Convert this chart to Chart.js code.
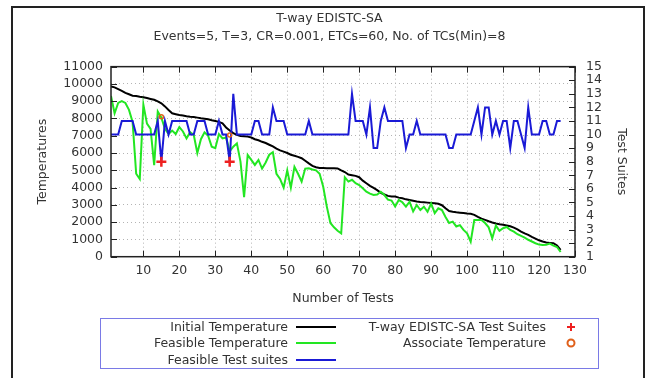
<!DOCTYPE html>
<html><head><meta charset="utf-8">
<script src="https://cdn.jsdelivr.net/npm/chart.js@4.4.1/dist/chart.umd.min.js"></script>
<style>
html,body{margin:0;padding:0;background:#fff;}
#wrap{position:relative;width:649px;height:378px;overflow:hidden;background:#fff;}
#c{position:absolute;left:0;top:0;}
#frame{position:absolute;left:11px;top:6px;width:634px;height:420px;border:2px solid #222;box-sizing:border-box;pointer-events:none;}
#legendBox{position:absolute;left:100px;top:318px;width:499px;height:51px;border:1.5px solid #7a7ae6;box-sizing:border-box;}
.lt{position:absolute;left:0;height:16px;line-height:16px;text-align:right;font:12.5px "DejaVu Sans",sans-serif;color:#333;white-space:nowrap;}
.ls{position:absolute;height:2px;}
.lm{position:absolute;}
</style>
</head><body>
<div id="wrap">
<canvas id="c" width="649" height="378"></canvas>
<div id="frame"></div>
<div id="legendBox"></div>
<div id="legend"></div>
</div>
<script>
// ---- data ----
const tests = [1,2,3,4,5,6,7,8,9,10,11,12,13,14,15,16,17,18,19,20,21,22,23,24,25,26,27,28,29,30,
31,32,33,34,35,36,37,38,39,40,41,42,43,44,45,46,47,48,49,50,51,52,53,54,55,56,57,58,59,60,
61,62,63,64,65,66,67,68,69,70,71,72,73,74,75,76,77,78,79,80,81,82,83,84,85,86,87,88,89,90,
91,92,93,94,95,96,97,98,99,100,101,102,103,104,105,106,107,108,109,110,111,112,113,114,115,116,117,118,119,120,
121,122,123,124,125,126];

const initialTemp = [9850,9800,9700,9600,9480,9400,9320,9300,9260,9230,
9180,9130,9080,8990,8880,8700,8490,8300,8250,8200,
8170,8130,8100,8080,8050,8010,7990,7950,7900,7860,
7800,7720,7480,7300,7150,7050,6990,6970,6950,6900,
6800,6740,6650,6580,6480,6380,6250,6150,6080,6000,
5900,5840,5780,5700,5550,5400,5260,5180,5140,5130,
5120,5120,5120,5110,5000,4900,4760,4720,4680,4600,
4400,4250,4100,3980,3850,3700,3600,3520,3490,3480,
3420,3380,3320,3280,3240,3200,3170,3150,3130,3110,
3090,3060,2980,2800,2640,2600,2570,2550,2530,2500,
2480,2420,2300,2200,2130,2050,1980,1920,1880,1850,
1810,1760,1680,1580,1450,1350,1260,1150,1050,950,
880,820,800,780,650,400];

const feasibleTemp = [9300,8300,8900,9000,8900,8500,7800,4800,4500,8800,
7700,7400,5300,8400,8050,7400,7100,7300,7100,7500,
7250,6850,7200,7050,6000,6800,7200,7000,6370,6280,
7100,6850,6900,6100,6370,6560,5500,3450,5890,5600,
5310,5600,5100,5450,5900,6050,4800,4500,4000,5000,
4000,5200,4800,4350,5100,5120,5050,5000,4800,4050,
2900,1950,1700,1500,1350,4600,4350,4450,4250,4150,
3960,3760,3650,3570,3600,3760,3570,3300,3250,2900,
3280,3150,2900,3180,2620,2990,2700,2890,2600,3080,
2520,2800,2700,2300,1950,2030,1750,1830,1550,1350,
870,2120,2130,2120,1950,1700,1065,1800,1500,1650,
1720,1550,1450,1300,1200,1100,980,880,780,700,
680,690,760,640,560,270];

const feasibleSuites = [10,10,10,11,11,11,11,10,10,10,
10,10,10,11,8,11,10,11,11,11,
11,11,10,10,11,11,11,10,10,10,
11,10,10,8,13,10,10,10,10,10,
11,11,10,10,10,12,11,11,11,10,
10,10,10,10,10,11,10,10,10,10,
10,10,10,10,10,10,10,13,11,11,
11,10,12,9,9,11,12,11,11,11,
11,11,9,10,10,11,10,10,10,10,
10,10,10,10,9,9,10,10,10,10,
10,11,12,10,12,12,10,11,10,11,
11,9,11,11,10,9,12,10,10,10,
11,11,10,10,11,11];

const markerTests = [15, 34];
const markerSuites = [8, 8];
const associateTemps = [8100, 7050];

const yTicks = [0,1000,2000,3000,4000,5000,6000,7000,8000,9000,10000,11000];
const y2Ticks = [1,2,3,4,5,6,7,8,9,10,11,12,13,14,15];
const xTicks = [10,20,30,40,50,60,70,80,90,100,110,120,130];

const COLORS = {initial:'#000000', feasible:'#22e622', suites:'#1a1ad6', plus:'#ee2020', circle:'#e0601a', text:'#333333', grid:'#b4b4b4'};

// ---- chart ----
const FONT = "'DejaVu Sans', sans-serif";
Chart.defaults.font.family = FONT;
Chart.defaults.font.size = 12;
Chart.defaults.color = COLORS.text;

const borderPlugin = {
  id: 'gpBorder',
  afterDatasetsDraw(chart) {
    const {ctx, chartArea: a, scales} = chart;
    ctx.save();
    ctx.strokeStyle = '#222';
    ctx.lineWidth = 1;
    const L = 6;
    ctx.beginPath();
    scales.y.ticks.forEach(t => { const p = Math.round(scales.y.getPixelForValue(t.value)) + 0.5; ctx.moveTo(a.left, p); ctx.lineTo(a.left + L, p); });
    scales.y2.ticks.forEach(t => { const p = Math.round(scales.y2.getPixelForValue(t.value)) + 0.5; ctx.moveTo(a.right, p); ctx.lineTo(a.right - L, p); });
    scales.x.ticks.forEach(t => { const p = Math.round(scales.x.getPixelForValue(t.value)) + 0.5; ctx.moveTo(p, a.bottom); ctx.lineTo(p, a.bottom - L); ctx.moveTo(p, a.top); ctx.lineTo(p, a.top + L); });
    ctx.stroke();
    ctx.lineWidth = 1.5;
    ctx.strokeRect(a.left, a.top, a.right - a.left, a.bottom - a.top);
    ctx.restore();
  }
};

const fixTicks = list => scale => { scale.ticks = list.map(v => ({value: v})); };
const plain = v => String(v);

new Chart(document.getElementById('c'), {
  type: 'line',
  data: {
    labels: tests,
    datasets: [
      {label: 'T-way EDISTC-SA Test Suites', type: 'scatter', yAxisID: 'y2',
       data: markerTests.map((x, i) => ({x: x, y: markerSuites[i]})),
       pointStyle: 'cross', pointRadius: 5, pointBorderWidth: 2.5, borderColor: COLORS.plus, backgroundColor: COLORS.plus, showLine: false, order: 0},
      {label: 'Associate Temperature', type: 'scatter', yAxisID: 'y',
       data: markerTests.map((x, i) => ({x: x, y: associateTemps[i]})),
       pointStyle: 'circle', pointRadius: 2, pointBorderWidth: 1.5, borderColor: COLORS.circle, backgroundColor: 'rgba(0,0,0,0)', showLine: false, order: 1},
      {label: 'Feasible Test suites', yAxisID: 'y2', data: feasibleSuites, borderColor: COLORS.suites, borderWidth: 2, pointRadius: 0, tension: 0, fill: false, order: 2},
      {label: 'Feasible Temperature', yAxisID: 'y', data: feasibleTemp, borderColor: COLORS.feasible, borderWidth: 2, pointRadius: 0, tension: 0, fill: false, order: 3},
      {label: 'Initial Temperature', yAxisID: 'y', data: initialTemp, borderColor: COLORS.initial, borderWidth: 2, pointRadius: 0, tension: 0, fill: false, order: 4}
    ]
  },
  options: {
    responsive: false,
    animation: false,
    devicePixelRatio: 1,
    events: [],
    layout: {padding: {left: 20, right: 10, top: 0, bottom: 71.3}},
    plugins: {
      legend: {display: false},
      tooltip: {enabled: false},
      title: {display: true, text: ['T-way EDISTC-SA', 'Events=5, T=3, CR=0.001, ETCs=60, No. of TCs(Min)=8'],
              color: COLORS.text, font: {size: 12.5, weight: 'normal', lineHeight: 1.45}, padding: {top: 10, bottom: 20.4}}
    },
    scales: {
      x: {type: 'linear', min: 1, max: 130, afterBuildTicks: fixTicks(xTicks),
          ticks: {padding: 7, color: COLORS.text, font: {size: 12.5}, maxRotation: 0, autoSkip: false, callback: plain},
          grid: {color: COLORS.grid, lineWidth: 1, drawTicks: false},
          border: {display: false, dash: [1, 3]},
          title: {display: true, text: 'Number of Tests', color: COLORS.text, font: {size: 12.5}, padding: {top: 2.5, bottom: 0}},
          afterFit: s => { s.height = 50; }},
      y: {type: 'linear', position: 'left', min: 0, max: 11000, afterBuildTicks: fixTicks(yTicks),
          ticks: {padding: 8, color: COLORS.text, font: {size: 12.5}, autoSkip: false, callback: plain},
          grid: {color: COLORS.grid, lineWidth: 1, drawTicks: false},
          border: {display: false, dash: [1, 3]},
          title: {display: true, text: 'Temperatures', color: COLORS.text, font: {size: 12.5}, padding: {top: 15.5, bottom: 0}},
          afterFit: s => { s.width = 91; }},
      y2: {type: 'linear', position: 'right', min: 1, max: 15, afterBuildTicks: fixTicks(y2Ticks),
          ticks: {padding: 11, color: COLORS.text, font: {size: 12.5}, autoSkip: false, callback: plain},
          grid: {display: false, drawTicks: false},
          border: {display: false},
          title: {display: true, text: 'Test Suites', color: COLORS.text, font: {size: 12.5}, padding: {top: 10, bottom: 0}},
          afterFit: s => { s.width = 64; }}
    }
  },
  plugins: [borderPlugin]
});

// ---- legend (gnuplot style key) ----
const legendItems = [
  {text: 'Initial Temperature', kind: 'line', color: COLORS.initial, col: 0, row: 0},
  {text: 'Feasible Temperature', kind: 'line', color: COLORS.feasible, col: 0, row: 1},
  {text: 'Feasible Test suites', kind: 'line', color: COLORS.suites, col: 0, row: 2},
  {text: 'T-way EDISTC-SA Test Suites', kind: 'plus', color: COLORS.plus, col: 1, row: 0},
  {text: 'Associate Temperature', kind: 'circle', color: COLORS.circle, col: 1, row: 1}
];
const rowY = [326.7, 343.3, 360];
const colTextRight = [288, 546];
const colSample = [296, 571];
const leg = document.getElementById('legend');
legendItems.forEach(it => {
  const cy = rowY[it.row];
  const t = document.createElement('div');
  t.className = 'lt';
  t.style.top = (cy - 8) + 'px';
  t.style.width = colTextRight[it.col] + 'px';
  t.textContent = it.text;
  leg.appendChild(t);
  if (it.kind === 'line') {
    const s = document.createElement('div');
    s.className = 'ls';
    s.style.left = colSample[it.col] + 'px';
    s.style.width = '40px';
    s.style.top = (cy - 1) + 'px';
    s.style.background = it.color;
    leg.appendChild(s);
  } else {
    const ns = 'http://www.w3.org/2000/svg';
    const svg = document.createElementNS(ns, 'svg');
    svg.setAttribute('width', '12'); svg.setAttribute('height', '12');
    svg.setAttribute('class', 'lm');
    svg.style.left = (colSample[it.col] - 6) + 'px';
    svg.style.top = (cy - 6) + 'px';
    if (it.kind === 'plus') {
      const p = document.createElementNS(ns, 'path');
      p.setAttribute('d', 'M6 2 V10 M2 6 H10');
      p.setAttribute('stroke', it.color); p.setAttribute('stroke-width', '2');
      svg.appendChild(p);
    } else {
      const c = document.createElementNS(ns, 'circle');
      c.setAttribute('cx', '6'); c.setAttribute('cy', '6'); c.setAttribute('r', '3.5');
      c.setAttribute('fill', 'none'); c.setAttribute('stroke', it.color); c.setAttribute('stroke-width', '2');
      svg.appendChild(c);
    }
    leg.appendChild(svg);
  }
});
</script>
</body></html>
